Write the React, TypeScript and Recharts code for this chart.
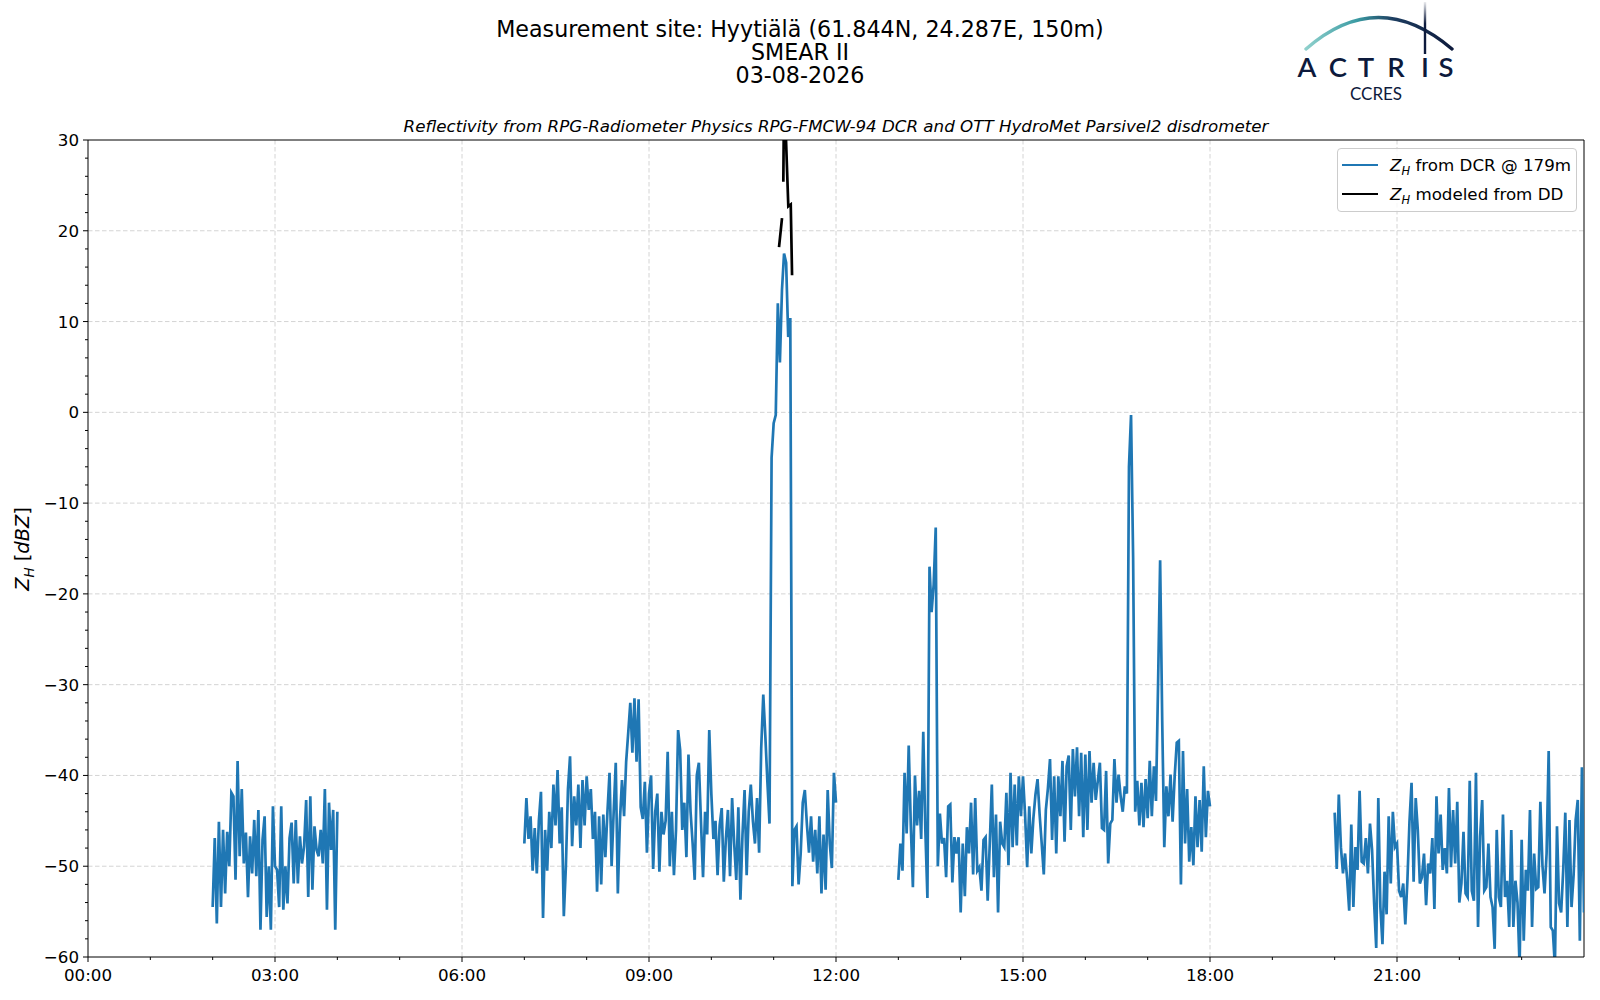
import React from "react";
import { LineChart, Line, XAxis, YAxis, CartesianGrid, ReferenceLine } from "recharts";

const FONT = "'DejaVu Sans', sans-serif";
const BLUE = "#1f77b4";
const NAVY = "#0d1a3c";

// DCR samples every 2 minutes, four blocks of data
const SEG_STARTS = [2, 7, 13, 20];
const STEP_H = 2 / 60;

const dcrSeg1 = [
  -54.5, -46.9, -56.3, -45.1, -54.5, -46.0, -53.0, -46.2, -50.0, -41.9,
  -42.3, -51.5, -38.4, -48.9, -41.5, -49.7, -46.3, -53.4, -46.7, -50.8,
  -44.9, -51.1, -43.8, -57.0, -47.1, -44.5, -55.6, -50.0, -57.0, -43.4,
  -50.0, -50.4, -54.5, -43.4, -54.8, -50.0, -54.1, -46.9, -45.2, -51.9,
  -44.9, -51.9, -46.7, -49.7, -47.8, -42.7, -53.4, -42.3, -52.6, -45.6,
  -48.2, -48.9, -46.0, -49.7, -41.5, -54.8, -43.0, -48.2, -43.8, -57.0,
  -44.0,
];

const dcrSeg2 = [
  -47.5, -42.5, -47.0, -44.5, -50.5, -45.8, -50.8, -45.0, -41.8, -55.7,
  -46.0, -50.5, -44.0, -48.0, -41.0, -45.5, -39.4, -47.5, -43.5, -55.5,
  -50.0, -41.5, -37.9, -47.8, -42.3, -45.5, -41.0, -48.0, -40.5, -45.5,
  -40.1, -43.8, -41.5, -47.0, -44.0, -52.8, -44.5, -52.0, -44.3, -49.0,
  -44.0, -39.7, -50.0, -44.0, -38.6, -53.0, -45.0, -40.5, -44.5, -38.5,
  -35.3, -32.0, -37.5, -31.5, -38.5, -31.6, -43.5, -44.8, -40.7, -48.5,
  -42.0, -40.0, -50.3, -44.0, -42.0, -50.6, -44.0, -46.5, -45.0, -37.4,
  -50.0, -44.0, -51.0, -46.0, -35.0, -37.2, -46.0, -43.0, -49.0, -37.7,
  -44.0, -47.5, -51.5, -40.0, -38.6, -45.0, -51.2, -44.0, -46.5, -35.0,
  -42.0, -47.0, -45.0, -51.0, -45.5, -43.6, -51.7, -47.0, -43.8, -51.1,
  -42.5, -47.5, -51.5, -43.5, -53.7, -46.5, -41.6, -51.0, -44.0, -41.0,
  -45.0, -47.5, -42.5, -48.5, -37.0, -31.1, -35.7, -40.8, -45.3,
  -5.0, -1.2, -0.3, 12.0, 5.5, 13.5, 17.5, 16.5, 8.3, 10.4,
  -52.2, -46.0, -45.6, -52.0, -48.6, -43.0, -41.6, -45.4, -48.5, -44.5,
  -49.5, -46.0, -50.8, -44.5, -53.0, -46.5, -52.6, -41.6, -47.5, -50.2,
  -39.7, -43.0,
];

const dcrSeg3 = [
  -51.5, -47.5, -50.5, -39.7, -46.4, -36.7, -45.5, -52.3, -40.0, -45.5,
  -41.7, -47.0, -35.2, -46.0, -53.5, -17.0, -22.0, -19.0, -12.7, -50.0,
  -44.2, -47.5, -46.9, -51.2, -43.4, -43.2, -51.8, -46.8, -48.6, -46.8,
  -55.1, -47.5, -53.3, -45.7, -48.6, -43.0, -50.9, -42.5, -50.5, -50.1,
  -52.7, -47.1, -46.8, -53.8, -47.5, -41.0, -51.2, -44.3, -55.1, -45.1,
  -47.5, -47.9, -41.9, -49.9, -39.7, -47.9, -41.0, -47.7, -40.1, -44.5,
  -40.1, -44.3, -50.1, -43.4, -48.6, -44.7, -42.1, -40.4, -44.3, -47.5,
  -50.9, -43.8, -41.4, -38.2, -47.1, -40.1, -48.6, -40.1, -44.5, -38.4,
  -47.3, -39.0, -37.8, -46.0, -37.1, -42.3, -36.9, -44.5, -37.5, -46.8,
  -37.7, -46.0, -37.3, -43.0, -38.6, -42.7, -40.6, -38.6, -45.8, -46.0,
  -39.5, -49.7, -45.3, -44.9, -38.2, -43.0, -39.9, -42.3, -44.0, -41.2,
  -42.0, -6.0, -0.3, -16.0, -44.0, -40.6, -45.5, -40.8, -45.7, -40.4,
  -44.7, -38.4, -44.5, -39.0, -42.8, -30.0, -16.3, -34.0, -47.9, -41.2,
  -44.5, -39.9, -45.1, -40.1, -36.4, -36.2, -52.0, -37.3, -47.5, -41.5,
  -49.5, -45.7, -49.9, -42.3, -47.9, -42.7, -48.4, -39.0, -46.8, -41.7,
  -43.4,
];

const dcrSeg4 = [
  -44.1, -50.3, -42.1, -47.9, -50.8, -48.6, -51.4, -54.9, -45.4, -54.5,
  -47.9, -50.4, -41.7, -49.5, -49.7, -46.9, -50.8, -45.3, -48.2, -54.1,
  -59.0, -42.5, -54.5, -58.6, -50.6, -55.3, -44.5, -51.9, -44.0, -47.9,
  -47.5, -52.7, -53.4, -51.9, -56.4, -51.6, -45.1, -40.8, -51.7, -42.5,
  -46.0, -51.9, -51.2, -48.6, -54.3, -49.7, -50.8, -46.9, -54.7, -42.3,
  -48.6, -44.3, -50.4, -48.0, -50.8, -41.4, -50.1, -43.8, -49.7, -42.9,
  -54.0, -51.9, -46.2, -53.0, -53.4, -40.6, -52.7, -53.8, -39.7, -56.7,
  -46.7, -42.7, -52.7, -52.3, -47.5, -53.4, -54.5, -59.1, -46.0, -53.4,
  -54.5, -44.3, -53.4, -51.6, -56.7, -46.0, -56.7, -51.6, -54.0, -61.0,
  -47.1, -58.2, -50.4, -52.7, -43.8, -56.7, -48.6, -52.5, -52.3, -42.9,
  -49.9, -53.0, -48.6, -37.3, -56.7, -57.1, -61.0, -45.6, -54.1, -55.1,
  -50.4, -44.1, -56.7, -44.9, -54.5, -51.0, -44.9, -42.7, -58.2, -39.1,
  -55.1,
];

// disdrometer-modelled reflectivity (only around the rain at 11 UTC)
const ddTimes = [11.086, 11.134, 11.145, 11.155, 11.168, 11.235, 11.274, 11.295];
const ddValues = [18.2, 21.4, null, 25.4, 36, 22.7, 22.9, 15.1];

const hourTicks = [0, 1, 2, 3, 4, 5, 6, 7, 8, 9, 10, 11, 12, 13, 14, 15, 16, 17, 18, 19, 20, 21, 22, 23];
const gridHours = [3, 6, 9, 12, 15, 18, 21];
const yTicks = [
  -60, -58, -56, -54, -52, -50, -48, -46, -44, -42, -40, -38, -36, -34, -32, -30,
  -28, -26, -24, -22, -20, -18, -16, -14, -12, -10, -8, -6, -4, -2, 0, 2, 4, 6,
  8, 10, 12, 14, 16, 18, 20, 22, 24, 26, 28, 30,
];
const gridY = [-50, -40, -30, -20, -10, 0, 10, 20];

const titleLines = ["Measurement site: Hyytiälä (61.844N, 24.287E, 150m)", "SMEAR II", "03-08-2026"];
const subtitle = "Reflectivity from RPG-Radiometer Physics RPG-FMCW-94 DCR and OTT HydroMet Parsivel2 disdrometer";
const legendLabels = ["from DCR @ 179m", "modeled from DD"];
const legendColors = [BLUE, "#000"];

function buildDcr() {
  const segs = [dcrSeg1, dcrSeg2, dcrSeg3, dcrSeg4];
  const rows: { t: number; v: number | null }[] = [];
  segs.forEach((seg, s) => {
    seg.forEach((v, i) => rows.push({ t: SEG_STARTS[s] + i * STEP_H, v }));
    rows.push({ t: SEG_STARTS[s] + seg.length * STEP_H, v: null });
  });
  return rows;
}

const fmtHour = (h: number) => `${String(h).padStart(2, "0")}:00`;
const fmtY = (v: number) => (v < 0 ? `\u2212${Math.abs(v)}` : `${v}`);

const renderXTick = (props: any) => {
  const { x, y, payload } = props;
  const major = payload.value % 3 === 0;
  return (
    <g>
      <line x1={x} x2={x} y1={y} y2={y + (major ? 5 : 3)} stroke="#000" strokeWidth={1} />
      {major && (
        <text x={x} y={y + 24} textAnchor="middle" fontSize={16.7} fontFamily={FONT} fill="#000">
          {fmtHour(payload.value)}
        </text>
      )}
    </g>
  );
};

const renderYTick = (props: any) => {
  const { x, y, payload } = props;
  const major = payload.value % 10 === 0;
  return (
    <g>
      <line x1={x - (major ? 5 : 3)} x2={x} y1={y} y2={y} stroke="#000" strokeWidth={1} />
      {major && (
        <text x={x - 9} y={y} dy="0.36em" textAnchor="end" fontSize={16.7} fontFamily={FONT} fill="#000">
          {fmtY(payload.value)}
        </text>
      )}
    </g>
  );
};

function Logo() {
  const letters = ["A", "C", "T", "R", "I", "S"];
  const cx = [1307, 1338, 1366, 1396, 1425, 1446];
  return (
    <g>
      <defs>
        <linearGradient id="arcGrad" x1="1306" y1="0" x2="1452" y2="0" gradientUnits="userSpaceOnUse">
          <stop offset="0" stopColor="#8fd0cc" />
          <stop offset="0.35" stopColor="#3b9ba3" />
          <stop offset="0.6" stopColor="#1d3d60" />
          <stop offset="1" stopColor={NAVY} />
        </linearGradient>
        <linearGradient id="barGrad" x1="0" y1="0" x2="0" y2="53" gradientUnits="userSpaceOnUse">
          <stop offset="0" stopColor={NAVY} stopOpacity="0" />
          <stop offset="0.45" stopColor={NAVY} stopOpacity="1" />
          <stop offset="1" stopColor={NAVY} />
        </linearGradient>
      </defs>
      <path d="M1306 49 Q1378 -14 1452 49" fill="none" stroke="url(#arcGrad)" strokeWidth={3.4} strokeLinecap="round" />
      <line x1={1425} x2={1425} y1={2} y2={54} stroke="url(#barGrad)" strokeWidth={2.4} />
      {letters.map((l, i) => (
        <text key={l + i} x={cx[i]} y={77} textAnchor="middle" fontSize={27.5} fontFamily="Lato, sans-serif" fontWeight={600} fill={NAVY}>
          {l}
        </text>
      ))}
      <text x={1376} y={99.5} textAnchor="middle" fontSize={17} fontFamily="Lato, sans-serif" fill={NAVY}>
        CCRES
      </text>
    </g>
  );
}

export default function App() {
  const dcrData = buildDcr();
  const ddData = ddTimes.map((t, i) => ({ t, v: ddValues[i] }));

  return (
    <div style={{ position: "absolute", left: 0, top: 0, width: 1600, height: 1000, background: "#fff", fontFamily: FONT }}>
      <LineChart width={1600} height={1000} margin={{ top: 140, right: 16, bottom: 13, left: 28 }}>
        <CartesianGrid horizontalValues={gridY} verticalValues={gridHours} stroke="#d4d4d4" strokeDasharray="4.5 2.5" strokeWidth={1} />
        <XAxis
          type="number"
          dataKey="t"
          domain={[0, 24]}
          ticks={hourTicks}
          interval={0}
          tickSize={0}
          tickMargin={0}
          tickLine={false}
          tick={renderXTick}
          axisLine={{ stroke: "#000", strokeWidth: 1 }}
          height={30}
          allowDataOverflow
        />
        <YAxis
          type="number"
          domain={[-60, 30]}
          ticks={yTicks}
          interval={0}
          tickSize={0}
          tickMargin={0}
          tickLine={false}
          tick={renderYTick}
          axisLine={{ stroke: "#000", strokeWidth: 1 }}
          width={60}
          allowDataOverflow
        />
        <ReferenceLine y={30} stroke="#000" strokeWidth={1} />
        <ReferenceLine x={24} stroke="#000" strokeWidth={1} />
        <Line data={dcrData} dataKey="v" stroke={BLUE} strokeWidth={2.7} dot={false} activeDot={false} isAnimationActive={false} />
        <Line data={ddData} dataKey="v" stroke="#000" strokeWidth={2.7} dot={false} activeDot={false} isAnimationActive={false} />
      </LineChart>

      <svg width={1600} height={1000} style={{ position: "absolute", left: 0, top: 0, pointerEvents: "none" }}>
        <text x={800} y={36.5} textAnchor="middle" fontSize={22.2} fontFamily={FONT} fill="#000">
          {titleLines.map((line, i) => (
            <tspan key={line} x={800} dy={i === 0 ? 0 : 23}>
              {line}
            </tspan>
          ))}
        </text>
        <text x={836} y={126} dominantBaseline="central" textAnchor="middle" fontSize={16.7} fontStyle="italic" fontFamily={FONT} fill="#000">
          {subtitle}
        </text>
        <text transform="translate(29 549) rotate(-90)" textAnchor="middle" fontSize={19.4} fontFamily={FONT} fill="#000">
          <tspan fontStyle="italic">Z</tspan>
          <tspan fontStyle="italic" fontSize={13.5} dy={4.5}>H</tspan>
          <tspan dy={-4.5}> [</tspan>
          <tspan fontStyle="italic">dBZ</tspan>
          <tspan>]</tspan>
        </text>
        <Logo />
      </svg>

      <div
        style={{
          position: "absolute",
          left: 1337,
          top: 148,
          width: 238,
          height: 62,
          border: "1px solid #cccccc",
          borderRadius: 4,
          background: "rgba(255,255,255,0.8)",
          fontFamily: FONT,
          fontSize: 16.7,
        }}
      >
        {legendLabels.map((label, i) => (
          <div key={label} style={{ position: "absolute", left: 4, top: 4 + i * 29, height: 24, display: "flex", alignItems: "center", whiteSpace: "nowrap" }}>
            <div style={{ width: 36, height: 2.7, background: legendColors[i], marginRight: 12 }} />
            <span>
              <i>Z</i>
              <i style={{ fontSize: 11.5, position: "relative", top: 4 }}>H</i> {label}
            </span>
          </div>
        ))}
      </div>
    </div>
  );
}
